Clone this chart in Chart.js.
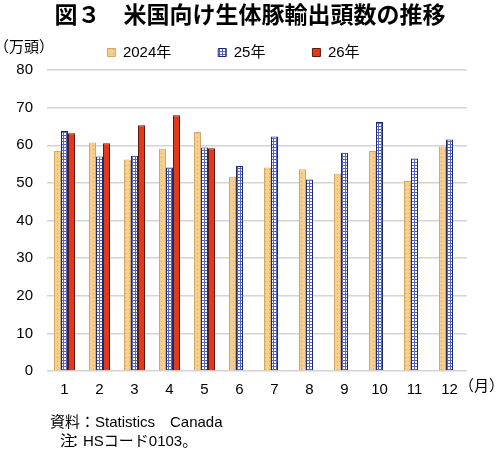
<!DOCTYPE html>
<html>
<head>
<meta charset="utf-8">
<script src="https://cdn.jsdelivr.net/npm/chart.js@4"></script>
<style>
  html, body { margin: 0; padding: 0; background: #fff; }
  #wrap { width: 500px; height: 455px; position: relative; }
</style>
</head>
<body>
<div id="wrap"><canvas id="hogchart"></canvas></div>
<script>
const months = ['1', '2', '3', '4', '5', '6', '7', '8', '9', '10', '11', '12'];
const seriesNames = ['2024年', '25年', '26年'];
const values2024 = [58.5, 60.7, 56.2, 59.1, 63.5, 51.6, 54.1, 53.6, 52.4, 58.5, 50.5, 59.7];
const values2025 = [63.8, 57.0, 57.2, 54.1, 59.4, 54.5, 62.3, 50.9, 58.0, 66.2, 56.5, 61.5];
const values2026 = [63.2, 60.5, 65.3, 68.0, 59.2];
const yTicks = [0, 10, 20, 30, 40, 50, 60, 70, 80];

const FONT = "'Liberation Sans', 'Noto Sans CJK JP', sans-serif";

// small fill patterns like the original spreadsheet chart
function dotPattern() {
    const c = document.createElement('canvas');
    c.width = 4; c.height = 4;
    const g = c.getContext('2d');
    g.fillStyle = '#f8cf8c';
    g.fillRect(0, 0, 4, 4);
    g.fillStyle = '#d9a65a';
    g.fillRect(1, 1, 1, 1);
    return g.createPattern(c, 'repeat');
}

function checkPattern() {
    const c = document.createElement('canvas');
    c.width = 3; c.height = 3;
    const g = c.getContext('2d');
    g.fillStyle = '#ffffff';
    g.fillRect(0, 0, 3, 3);
    g.fillStyle = '#5566c8';
    g.fillRect(0, 0, 3, 1);
    g.fillRect(0, 0, 1, 3);
    return g.createPattern(c, 'repeat');
}

// title, unit, month suffix and source notes
const extraText = {
    id: 'extraText',
    afterDraw(chart) {
        const ctx = chart.ctx;
        ctx.save();
        ctx.fillStyle = '#000';
        ctx.textBaseline = 'middle';
        ctx.textAlign = 'center';
        ctx.font = 'bold 23px ' + FONT;
        ctx.fillText('図３　米国向け生体豚輸出頭数の推移', 250, 17);
        ctx.font = '15px ' + FONT;
        ctx.textAlign = 'left';
        ctx.fillText('（万頭）', -6, 48);
        ctx.fillText('（月）', 459, 387);
        ctx.fillText('資料：Statistics　Canada', 50, 423);
        ctx.fillText('注', 60, 442);
        ctx.fillText('：HSコード0103。', 68, 442);
        ctx.restore();
    }
};

const ctx = document.getElementById('hogchart').getContext('2d');

const hogChart = new Chart(ctx, {
    type: 'bar',
    data: {
        labels: months,
        datasets: [
            {
                label: seriesNames[0],
                data: values2024,
                backgroundColor: dotPattern(),
                borderColor: '#d3a866',
                borderWidth: 1
            },
            {
                label: seriesNames[1],
                data: values2025,
                backgroundColor: checkPattern(),
                borderColor: '#1f2a6b',
                borderWidth: 1
            },
            {
                label: seriesNames[2],
                data: values2026,
                backgroundColor: '#e3391b',
                borderColor: '#5c1a10',
                borderWidth: 1
            }
        ]
    },
    options: {
        responsive: true,
        maintainAspectRatio: false,
        animation: false,
        layout: {
            padding: { top: -2, right: 33, left: 0, bottom: 0 }
        },
        datasets: {
            bar: { categoryPercentage: 0.6, barPercentage: 1.0 }
        },
        plugins: {
            title: { display: false },
            legend: {
                position: 'top',
                labels: {
                    boxWidth: 8,
                    boxHeight: 8,
                    padding: 47,
                    color: '#000',
                    font: { family: FONT, size: 15 }
                }
            },
            tooltip: { enabled: false }
        },
        scales: {
            x: {
                grid: { display: false },
                border: { display: false },
                ticks: {
                    color: '#000',
                    font: { family: FONT, size: 15 },
                    padding: 2,
                    maxRotation: 0
                },
                afterFit(scale) { scale.height = 84; }
            },
            y: {
                min: 0,
                max: 80,
                afterBuildTicks(scale) {
                    scale.ticks = yTicks.map(v => ({ value: v }));
                },
                grid: { color: '#d4d4d4', lineWidth: 1.5, drawTicks: false },
                border: { display: false },
                ticks: {
                    color: '#000',
                    font: { family: FONT, size: 15 },
                    padding: 14
                },
                afterFit(scale) { scale.width = 47; }
            }
        }
    },
    plugins: [extraText]
});
</script>
</body>
</html>
